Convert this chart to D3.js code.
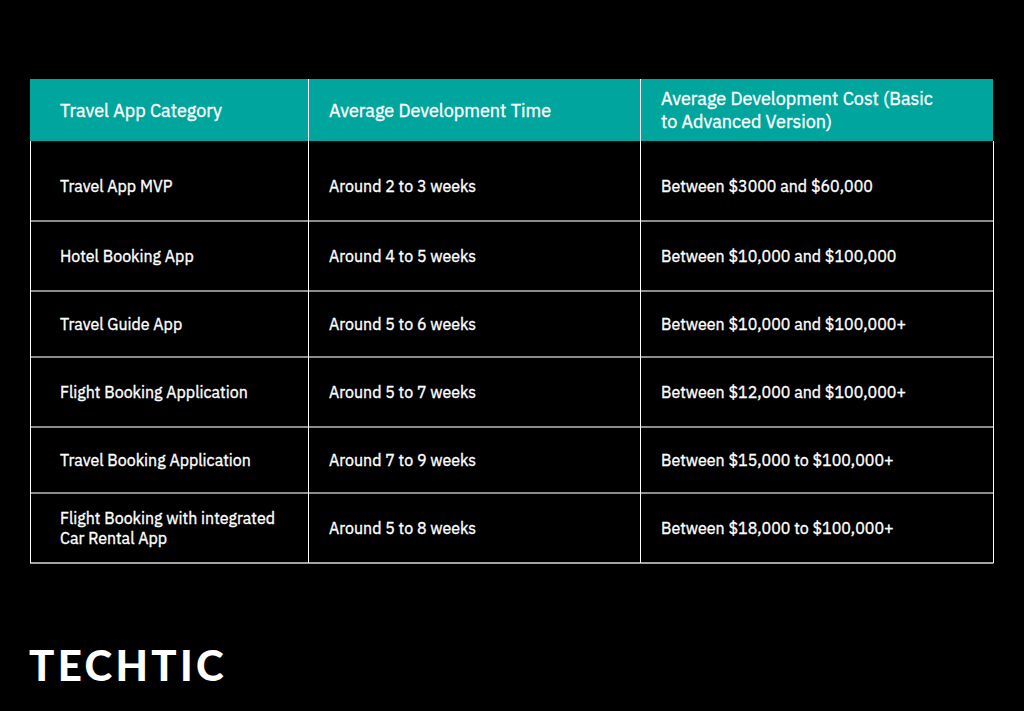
<!DOCTYPE html>
<html>
<head>
<meta charset="utf-8">
<script src="https://cdn.jsdelivr.net/npm/d3@7"></script>
<style>
html,body{margin:0;padding:0;background:#000;}
svg{display:block;}
</style>
</head>
<body>
<svg id="chart" width="1024" height="711"></svg>
<script>
const headers = ["Travel App Category", "Average Development Time", "Average Development Cost (Basic|to Advanced Version)"];
const categories = ["Travel App MVP", "Hotel Booking App", "Travel Guide App", "Flight Booking Application", "Travel Booking Application", "Flight Booking with integrated|Car Rental App"];
const devTimes = ["Around 2 to 3 weeks", "Around 4 to 5 weeks", "Around 5 to 6 weeks", "Around 5 to 7 weeks", "Around 7 to 9 weeks", "Around 5 to 8 weeks"];
const devCosts = ["Between $3000 and $60,000", "Between $10,000 and $100,000", "Between $10,000 and $100,000+", "Between $12,000 and $100,000+", "Between $15,000 to $100,000+", "Between $18,000 to $100,000+"];
const brand = "TECHTIC";

// layout
const W = 1024, H = 711;
const left = 30, right = 993;
const colEdges = [30, 308, 640, 993];
const headerTop = 79, headerH = 62;
const rowHeights = [80, 70, 66, 70, 66, 70];
const textPad = 30, colTextPad = 21;

const svg = d3.select("#chart");
svg.append("rect").attr("width", W).attr("height", H).attr("fill", "#000");

const rows = categories.map((c, i) => [c, devTimes[i], devCosts[i]]);
const rowTops = [];
let acc = headerTop + headerH;
rowHeights.forEach(h => { rowTops.push(acc); acc += h; });
const tableBottom = acc;

const font = "'IBM Plex Sans','Noto Sans','Open Sans',sans-serif";

// header
svg.append("rect").attr("x", left).attr("y", headerTop).attr("width", right - left).attr("height", headerH).attr("fill", "#00a69d");

function textX(ci) { return ci === 0 ? colEdges[0] + textPad : colEdges[ci] + colTextPad; }

function addCellText(g, str, x, cy, size, lh) {
  const lines = str.split("|");
  const t = g.append("text").attr("x", x).attr("fill", "#fff")
    .attr("stroke", "#fff").attr("stroke-width", 0.35)
    .attr("font-family", font).attr("font-size", size).attr("font-weight", 400);
  lines.forEach((ln, k) => {
    t.append("tspan").attr("x", x)
      .attr("y", cy + (k - (lines.length - 1) / 2) * lh)
      .attr("dy", "0.35em").text(ln);
  });
}

const hg = svg.append("g");
headers.forEach((h, ci) => {
  addCellText(hg, h, textX(ci), headerTop + headerH / 2 + (h.includes("|") ? 0.5 : 1), 18, 23);
});

// row separators
const lg = svg.append("g");
rowTops.slice(1).forEach(y => {
  lg.append("line").attr("x1", left).attr("x2", right).attr("y1", y).attr("y2", y)
    .attr("stroke", "#8c8c8c").attr("stroke-width", 2);
});
// bottom
lg.append("line").attr("x1", left).attr("x2", right + 0.5).attr("y1", tableBottom).attr("y2", tableBottom)
  .attr("stroke", "#d8d8d8").attr("stroke-width", 1.5);
// outer verticals and column dividers
[colEdges[0] + 0.5, colEdges[1] + 0.5, colEdges[2] + 0.5, colEdges[3] + 0.5].forEach((x, i) => {
  lg.append("line").attr("x1", x).attr("x2", x)
    .attr("y1", (i === 0 || i === 3) ? headerTop + headerH : headerTop)
    .attr("y2", tableBottom).attr("stroke", "#fff").attr("stroke-width", 1);
});

// body text
const bg = svg.append("g");
rows.forEach((r, ri) => {
  const cy = rowTops[ri] + rowHeights[ri] / 2 + (ri === 0 ? 5 : 0);
  r.forEach((cell, ci) => {
    addCellText(bg, cell, textX(ci), cy, 16, 20);
  });
});

// brand
svg.append("text").attr("x", 29).attr("y", 681)
  .attr("fill", "#fff").attr("font-family", "'Lato','Open Sans',sans-serif")
  .attr("font-weight", 900).attr("font-size", 42).attr("letter-spacing", 3.3)
  .text(brand);
</script>
</body>
</html>
